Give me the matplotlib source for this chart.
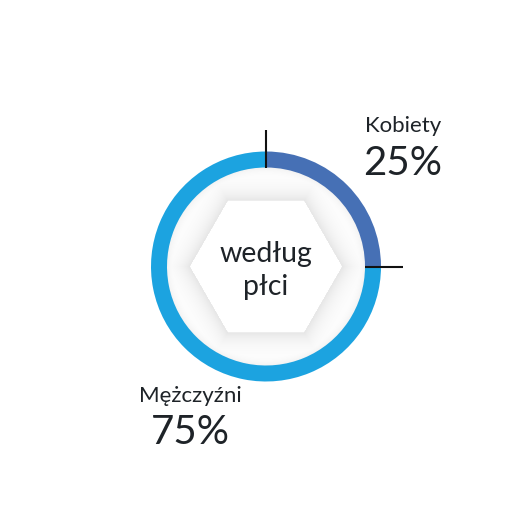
import numpy as np
import matplotlib
matplotlib.use("Agg")
import matplotlib.pyplot as plt
from matplotlib.patches import RegularPolygon

categories = ["Kobiety", "Mężczyźni"]
values = [25, 75]
value_labels = ["25%", "75%"]
center_text = ["według", "płci"]

colors = ["#4670b5", "#1ca3e0"]
text_color = "#1e2328"
FONT = ["Lato", "DejaVu Sans"]
WEIGHT = "normal"

W = 531
fig = plt.figure(figsize=(5.31, 5.31), dpi=100)
ax = fig.add_axes([0, 0, 1, 1])

cx, cy = 266, 264.5
R_out, ring_w = 115, 16
R_in = R_out - ring_w

# inner shading (shadow around hexagon and inside the ring)
yy, xx = np.mgrid[0:W, 0:W]
px = xx + 0.5 - cx
py = (W - yy - 0.5) - cy
rr = np.hypot(px, py)
hex_R = 76
apothem = hex_R * np.cos(np.pi / 6)
hd = np.zeros_like(px)
for ang in (30, 90, 150):
    a = np.deg2rad(ang)
    hd = np.maximum(hd, np.abs(px * np.cos(a) + py * np.sin(a)))
d_out = hd - apothem
shade = np.where(d_out > 0, 0.10 * np.exp(-d_out / 10.0), 0.0)
shade = np.maximum(shade, 0.05 * np.exp(-(R_in - rr) / 5.0))
gray = 1 - shade
img = np.ones((W, W, 4))
img[..., 0] = gray
img[..., 1] = gray
img[..., 2] = gray
img[..., 3] = np.where(rr <= R_in + 1, 1.0, 0.0)
ax.imshow(img, extent=(0, W, 0, W), origin="upper", zorder=1, interpolation="nearest")
ax.add_patch(RegularPolygon((cx, cy), 6, radius=hex_R, orientation=np.pi / 6,
                            facecolor="white", edgecolor="none", zorder=1.5))

# donut ring
wedges, _ = ax.pie(values, colors=colors, startangle=90, counterclock=False,
                   radius=R_out, center=(cx, cy),
                   wedgeprops=dict(width=ring_w, edgecolor="none", linewidth=0))
for w in wedges:
    w.set_zorder(2)

# tick lines at segment boundaries
for ang in [90, 90 - 360 * values[0] / sum(values)]:
    a = np.deg2rad(ang)
    r0, r1 = R_in, R_out + 22
    ax.plot([cx + r0 * np.cos(a), cx + r1 * np.cos(a)],
            [cy + r0 * np.sin(a), cy + r1 * np.sin(a)],
            color="#111111", lw=1.5, zorder=3, solid_capstyle="butt")

# labels
label_pos = [(403, 399, 356), (190, 129, 87)]
for (x, y1, y2), cat, lab in zip(label_pos, categories, value_labels):
    ax.text(x, y1, cat, ha="center", va="baseline", fontsize=16,
            family=FONT, fontweight=WEIGHT, color=text_color, zorder=4)
    ax.text(x, y2, lab, ha="center", va="baseline", fontsize=29,
            family=FONT, fontweight=WEIGHT, color=text_color, zorder=4)

ax.text(cx, 269, center_text[0], ha="center", va="baseline", fontsize=20.5,
        family=FONT, fontweight=WEIGHT, color=text_color, zorder=4)
ax.text(cx, 236, center_text[1], ha="center", va="baseline", fontsize=20.5,
        family=FONT, fontweight=WEIGHT, color=text_color, zorder=4)

ax.set_xlim(0, W)
ax.set_ylim(0, W)
ax.set_aspect("equal")
ax.axis("off")
fig.savefig("out.png", dpi=100, facecolor="white")
